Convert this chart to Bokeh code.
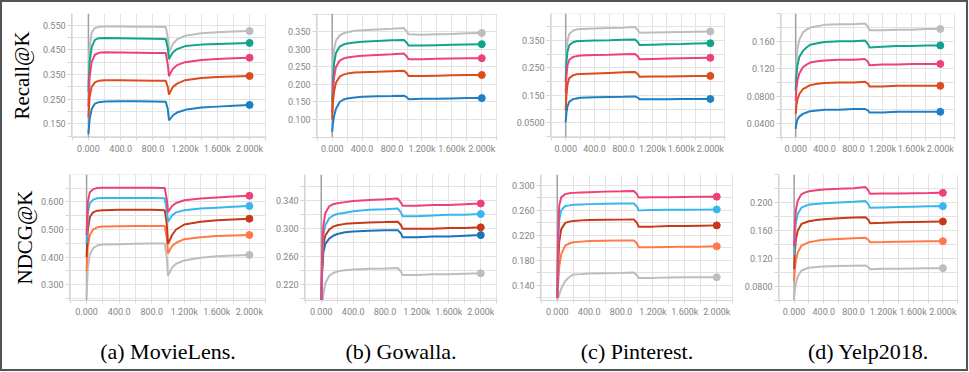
from bokeh.plotting import figure
from bokeh.layouts import row, column
from bokeh.models import Range1d, FixedTicker, Span
from bokeh.embed import file_html
from bokeh.resources import INLINE

# ---------------- data ----------------
x_ticks = [0, 400, 800, 1200, 1600, 2000]
x_tick_labels = ["0.000", "400.0", "800.0", "1.200k", "1.600k", "2.000k"]
x_grid = [-200, 0, 200, 400, 600, 800, 1000, 1200, 1400, 1600, 1800, 2000, 2200]
x_minor = [-200, 200, 600, 1000, 1400, 1800, 2200]

row_labels = ["Recall@K", "NDCG@K"]
captions = ["(a) MovieLens.", "(b) Gowalla.", "(c) Pinterest.", "(d) Yelp2018."]

steps_ml = [0, 15, 40, 80, 130, 200, 400, 600, 800, 960, 985, 1000, 1020, 1050, 1100, 1200, 1400, 1600, 1800, 2000]
steps_std = [0, 10, 25, 50, 100, 150, 200, 300, 400, 600, 800, 960, 1000, 1020, 1200, 1400, 1600, 1800, 2000]

# MovieLens Recall@K
ml_recall_gray = [0.30, 0.46, 0.52, 0.538, 0.543, 0.544, 0.544, 0.543, 0.543, 0.542, 0.50, 0.44, 0.455, 0.475, 0.492, 0.507, 0.517, 0.521, 0.524, 0.526]
ml_recall_teal = [0.28, 0.40, 0.46, 0.49, 0.497, 0.498, 0.497, 0.496, 0.495, 0.494, 0.455, 0.412, 0.425, 0.44, 0.453, 0.465, 0.471, 0.474, 0.476, 0.478]
ml_recall_pink = [0.22, 0.34, 0.40, 0.43, 0.438, 0.44, 0.439, 0.438, 0.437, 0.437, 0.39, 0.343, 0.357, 0.373, 0.388, 0.400, 0.409, 0.413, 0.416, 0.418]
ml_recall_red = [0.177, 0.26, 0.30, 0.318, 0.325, 0.327, 0.327, 0.326, 0.325, 0.325, 0.30, 0.269, 0.283, 0.30, 0.313, 0.327, 0.336, 0.340, 0.342, 0.344]
ml_recall_blue = [0.11, 0.17, 0.21, 0.232, 0.238, 0.241, 0.242, 0.242, 0.241, 0.240, 0.21, 0.164, 0.172, 0.185, 0.196, 0.207, 0.216, 0.220, 0.224, 0.227]

# Gowalla Recall@K
go_recall_gray = [0.20, 0.26, 0.30, 0.325, 0.340, 0.346, 0.349, 0.353, 0.355, 0.357, 0.359, 0.361, 0.350, 0.343, 0.342, 0.343, 0.344, 0.346, 0.347]
go_recall_teal = [0.15, 0.21, 0.26, 0.29, 0.308, 0.314, 0.317, 0.320, 0.322, 0.324, 0.326, 0.327, 0.318, 0.311, 0.311, 0.312, 0.313, 0.314, 0.315]
go_recall_pink = [0.12, 0.18, 0.22, 0.25, 0.268, 0.274, 0.277, 0.280, 0.282, 0.284, 0.286, 0.288, 0.279, 0.272, 0.272, 0.273, 0.274, 0.275, 0.275]
go_recall_red = [0.10, 0.15, 0.18, 0.205, 0.222, 0.228, 0.231, 0.234, 0.235, 0.236, 0.238, 0.239, 0.231, 0.224, 0.224, 0.225, 0.226, 0.227, 0.227]
go_recall_blue = [0.065, 0.09, 0.11, 0.13, 0.150, 0.157, 0.160, 0.163, 0.165, 0.166, 0.167, 0.168, 0.163, 0.158, 0.159, 0.159, 0.160, 0.161, 0.161]

# Pinterest Recall@K
pi_recall_gray = [0.25, 0.31, 0.35, 0.374, 0.386, 0.390, 0.392, 0.393, 0.394, 0.396, 0.397, 0.399, 0.388, 0.378, 0.379, 0.380, 0.381, 0.382, 0.383]
pi_recall_teal = [0.20, 0.27, 0.31, 0.333, 0.344, 0.347, 0.348, 0.349, 0.350, 0.351, 0.353, 0.354, 0.344, 0.334, 0.335, 0.336, 0.337, 0.339, 0.340]
pi_recall_pink = [0.16, 0.22, 0.26, 0.280, 0.290, 0.293, 0.295, 0.296, 0.297, 0.298, 0.300, 0.301, 0.292, 0.282, 0.283, 0.284, 0.285, 0.286, 0.287]
pi_recall_red = [0.095, 0.15, 0.19, 0.213, 0.223, 0.227, 0.228, 0.229, 0.230, 0.232, 0.234, 0.235, 0.227, 0.218, 0.219, 0.219, 0.220, 0.221, 0.221]
pi_recall_blue = [0.052, 0.085, 0.11, 0.127, 0.136, 0.139, 0.141, 0.142, 0.143, 0.144, 0.145, 0.146, 0.141, 0.136, 0.136, 0.136, 0.137, 0.137, 0.137]

# Yelp2018 Recall@K
ye_recall_gray = [0.10, 0.13, 0.15, 0.162, 0.173, 0.177, 0.180, 0.182, 0.184, 0.185, 0.185, 0.186, 0.181, 0.176, 0.176, 0.177, 0.177, 0.178, 0.178]
ye_recall_teal = [0.088, 0.11, 0.125, 0.137, 0.146, 0.151, 0.155, 0.157, 0.159, 0.160, 0.160, 0.161, 0.156, 0.151, 0.152, 0.153, 0.153, 0.154, 0.154]
ye_recall_pink = [0.073, 0.09, 0.103, 0.113, 0.122, 0.126, 0.129, 0.131, 0.132, 0.133, 0.133, 0.134, 0.130, 0.125, 0.126, 0.126, 0.127, 0.127, 0.127]
ye_recall_red = [0.054, 0.066, 0.075, 0.083, 0.090, 0.093, 0.096, 0.098, 0.099, 0.100, 0.100, 0.101, 0.098, 0.094, 0.094, 0.095, 0.095, 0.095, 0.095]
ye_recall_blue = [0.032, 0.040, 0.046, 0.050, 0.054, 0.056, 0.058, 0.059, 0.060, 0.060, 0.061, 0.061, 0.059, 0.056, 0.056, 0.057, 0.057, 0.057, 0.057]

# MovieLens NDCG@K
ml_ndcg_pink = [0.48, 0.60, 0.635, 0.646, 0.650, 0.651, 0.651, 0.651, 0.651, 0.650, 0.61, 0.563, 0.572, 0.585, 0.596, 0.606, 0.612, 0.616, 0.619, 0.622]
ml_ndcg_lblue = [0.45, 0.56, 0.595, 0.608, 0.613, 0.614, 0.614, 0.614, 0.614, 0.613, 0.57, 0.528, 0.537, 0.551, 0.562, 0.570, 0.576, 0.579, 0.582, 0.585]
ml_ndcg_brown = [0.40, 0.50, 0.545, 0.562, 0.568, 0.570, 0.571, 0.571, 0.571, 0.570, 0.52, 0.448, 0.46, 0.48, 0.500, 0.518, 0.528, 0.533, 0.536, 0.539]
ml_ndcg_orange = [0.35, 0.44, 0.48, 0.500, 0.508, 0.511, 0.512, 0.513, 0.513, 0.513, 0.47, 0.413, 0.425, 0.44, 0.452, 0.465, 0.472, 0.476, 0.478, 0.480]
ml_ndcg_gray = [0.26, 0.36, 0.41, 0.432, 0.442, 0.446, 0.447, 0.448, 0.449, 0.449, 0.40, 0.333, 0.345, 0.362, 0.376, 0.388, 0.398, 0.403, 0.406, 0.408]

# Gowalla NDCG@K
go_ndcg_pink = [0.19, 0.26, 0.303, 0.322, 0.332, 0.335, 0.3365, 0.338, 0.3395, 0.341, 0.342, 0.343, 0.337, 0.333, 0.333, 0.334, 0.334, 0.335, 0.336]
go_ndcg_lblue = [0.19, 0.25, 0.29, 0.305, 0.315, 0.319, 0.321, 0.323, 0.325, 0.327, 0.328, 0.329, 0.323, 0.318, 0.318, 0.319, 0.320, 0.320, 0.321]
go_ndcg_red = [0.19, 0.24, 0.275, 0.29, 0.299, 0.303, 0.305, 0.307, 0.308, 0.309, 0.3095, 0.310, 0.305, 0.300, 0.300, 0.300, 0.301, 0.301, 0.302]
go_ndcg_blue = [0.19, 0.235, 0.265, 0.278, 0.286, 0.290, 0.2925, 0.295, 0.296, 0.297, 0.298, 0.298, 0.293, 0.288, 0.288, 0.289, 0.289, 0.290, 0.291]
go_ndcg_gray = [0.15, 0.18, 0.205, 0.222, 0.233, 0.237, 0.239, 0.241, 0.242, 0.243, 0.2435, 0.244, 0.239, 0.234, 0.234, 0.235, 0.235, 0.236, 0.2365]

# Pinterest NDCG@K
pi_ndcg_pink = [0.12, 0.22, 0.268, 0.281, 0.286, 0.2875, 0.288, 0.2885, 0.289, 0.290, 0.2905, 0.291, 0.286, 0.2805, 0.281, 0.281, 0.2815, 0.282, 0.282]
pi_ndcg_lblue = [0.12, 0.20, 0.245, 0.260, 0.267, 0.268, 0.269, 0.2695, 0.270, 0.2705, 0.271, 0.271, 0.266, 0.260, 0.2605, 0.261, 0.261, 0.2612, 0.2615]
pi_ndcg_brown = [0.12, 0.17, 0.21, 0.230, 0.240, 0.242, 0.243, 0.244, 0.2445, 0.245, 0.2452, 0.2455, 0.240, 0.234, 0.234, 0.235, 0.235, 0.2355, 0.236]
pi_ndcg_orange = [0.12, 0.14, 0.17, 0.19, 0.2035, 0.207, 0.209, 0.210, 0.211, 0.2115, 0.212, 0.212, 0.207, 0.201, 0.201, 0.2015, 0.202, 0.202, 0.2025]
pi_ndcg_gray = [0.115, 0.12, 0.125, 0.135, 0.147, 0.153, 0.1575, 0.158, 0.159, 0.1595, 0.160, 0.1605, 0.156, 0.152, 0.152, 0.1525, 0.153, 0.153, 0.153]

# Yelp2018 NDCG@K
ye_ndcg_pink = [0.137, 0.17, 0.19, 0.203, 0.212, 0.2145, 0.216, 0.2175, 0.2186, 0.2195, 0.2205, 0.222, 0.217, 0.2124, 0.2128, 0.213, 0.2133, 0.2135, 0.2138]
ye_ndcg_lblue = [0.125, 0.155, 0.172, 0.184, 0.193, 0.195, 0.197, 0.198, 0.199, 0.200, 0.201, 0.202, 0.197, 0.1924, 0.193, 0.1935, 0.194, 0.1945, 0.1948]
ye_ndcg_brown = [0.105, 0.13, 0.148, 0.16, 0.1695, 0.1715, 0.1733, 0.175, 0.176, 0.1775, 0.1785, 0.179, 0.175, 0.1705, 0.171, 0.1718, 0.1722, 0.1726, 0.1729]
ye_ndcg_orange = [0.088, 0.105, 0.118, 0.129, 0.1386, 0.141, 0.1433, 0.1452, 0.1467, 0.148, 0.149, 0.1495, 0.1465, 0.1433, 0.1436, 0.144, 0.1443, 0.1446, 0.1448]
ye_ndcg_gray = [0.062, 0.075, 0.085, 0.095, 0.1029, 0.105, 0.1067, 0.1078, 0.1086, 0.1093, 0.1097, 0.11, 0.1075, 0.1048, 0.1052, 0.1055, 0.1058, 0.106, 0.1062]

# y tick values / labels / grid per panel
ml_recall_yticks = [0.15, 0.25, 0.35, 0.45, 0.55]
ml_recall_ylabels = ["0.150", "0.250", "0.350", "0.450", "0.550"]
ml_recall_ygrid = [0.1, 0.15, 0.2, 0.25, 0.3, 0.35, 0.4, 0.45, 0.5, 0.55, 0.6]
go_recall_yticks = [0.1, 0.15, 0.2, 0.25, 0.3, 0.35]
go_recall_ylabels = ["0.100", "0.150", "0.200", "0.250", "0.300", "0.350"]
go_recall_ygrid = [0.05, 0.1, 0.15, 0.2, 0.25, 0.3, 0.35, 0.4]
pi_recall_yticks = [0.05, 0.15, 0.25, 0.35]
pi_recall_ylabels = ["0.0500", "0.150", "0.250", "0.350"]
pi_recall_ygrid = [0.0, 0.05, 0.1, 0.15, 0.2, 0.25, 0.3, 0.35, 0.4, 0.45]
ye_recall_yticks = [0.04, 0.08, 0.12, 0.16]
ye_recall_ylabels = ["0.0400", "0.0800", "0.120", "0.160"]
ye_recall_ygrid = [0.02, 0.04, 0.06, 0.08, 0.1, 0.12, 0.14, 0.16, 0.18, 0.2]
ml_ndcg_yticks = [0.3, 0.4, 0.5, 0.6]
ml_ndcg_ylabels = ["0.300", "0.400", "0.500", "0.600"]
ml_ndcg_ygrid = [0.25, 0.3, 0.35, 0.4, 0.45, 0.5, 0.55, 0.6, 0.65, 0.7]
go_ndcg_yticks = [0.22, 0.26, 0.3, 0.34]
go_ndcg_ylabels = ["0.220", "0.260", "0.300", "0.340"]
go_ndcg_ygrid = [0.2, 0.22, 0.24, 0.26, 0.28, 0.3, 0.32, 0.34, 0.36]
pi_ndcg_yticks = [0.14, 0.18, 0.22, 0.26, 0.3]
pi_ndcg_ylabels = ["0.140", "0.180", "0.220", "0.260", "0.300"]
pi_ndcg_ygrid = [0.12, 0.14, 0.16, 0.18, 0.2, 0.22, 0.24, 0.26, 0.28, 0.3]
ye_ndcg_yticks = [0.08, 0.12, 0.16, 0.2]
ye_ndcg_ylabels = ["0.0800", "0.120", "0.160", "0.200"]
ye_ndcg_ygrid = [0.06, 0.08, 0.1, 0.12, 0.14, 0.16, 0.18, 0.2, 0.22, 0.24]

# ---------------- styles ----------------
C_GRAY = "#bdbdbd"
C_TEAL = "#12a38d"
C_PINK = "#ee417c"
C_RED = "#dc4c1c"
C_BLUE = "#1d7fc5"
C_LBLUE = "#38b7ee"
C_BROWN = "#c8391a"
C_ORANGE = "#ff7a48"
C_DBLUE = "#1b74b8"

GRID = "#e3e3e3"
AXIS = "#d6d6d6"
TICKTXT = "#858585"
SERIF = "Liberation Serif"


def panel(steps, series, yr, yticks, ylabels, ygrid, geom, xr=(-210, 2210),
          ylab=None, ylab_standoff=5, xlab=None):
    w, h, l, r, t, b = geom
    p = figure(width=w, height=h, min_border_left=l, min_border_right=r,
               min_border_top=t, min_border_bottom=b,
               x_range=Range1d(*xr), y_range=Range1d(*yr),
               output_backend="svg", toolbar_location=None)
    p.outline_line_color = None
    p.background_fill_color = "white"
    p.border_fill_color = "white"
    p.xgrid.ticker = FixedTicker(ticks=x_grid)
    p.ygrid.ticker = FixedTicker(ticks=ygrid)
    for g in (p.xgrid, p.ygrid):
        g.grid_line_color = GRID
        g.grid_line_width = 1
    xa = p.xaxis[0]
    ya = p.yaxis[0]
    xa.ticker = FixedTicker(ticks=x_ticks, minor_ticks=x_minor)
    xa.major_label_overrides = dict(zip(x_ticks, x_tick_labels))
    ya.ticker = FixedTicker(ticks=yticks, minor_ticks=ygrid)
    ya.major_label_overrides = dict(zip(yticks, ylabels))
    for ax in (xa, ya):
        ax.axis_line_color = AXIS
        ax.major_tick_line_color = AXIS
        ax.minor_tick_line_color = AXIS
        ax.major_tick_in = 0
        ax.minor_tick_in = 0
        ax.major_tick_out = 4
        ax.minor_tick_out = 4
        ax.major_label_text_font = "Roboto"
        ax.major_label_text_font_size = "9px"
        ax.major_label_text_color = TICKTXT
        ax.major_label_standoff = 2
    xa.major_tick_out = 3
    xa.minor_tick_out = 3
    xa.major_label_standoff = 3
    if ylab:
        ya.axis_label = ylab
        ya.axis_label_text_font = SERIF
        ya.axis_label_text_font_size = "21px"
        ya.axis_label_text_font_style = "normal"
        ya.axis_label_text_color = "black"
        ya.axis_label_standoff = ylab_standoff
    if xlab:
        xa.axis_label = xlab
        xa.axis_label_text_font = SERIF
        xa.axis_label_text_font_size = "22px"
        xa.axis_label_text_font_style = "normal"
        xa.axis_label_text_color = "black"
        xa.axis_label_standoff = 19
    zero = Span(location=0, dimension="height", line_color="#a0a0a0", line_width=1.5)
    zero.level = "underlay"
    p.add_layout(zero)
    for vals, col in series:
        p.line(steps, vals, line_color=col, line_width=2)
        p.scatter([steps[-1]], [vals[-1]], size=7, fill_color=col, line_color=col)
    return p


p1 = panel(steps_ml, [(ml_recall_gray, C_GRAY), (ml_recall_teal, C_TEAL), (ml_recall_pink, C_PINK),
                      (ml_recall_red, C_RED), (ml_recall_blue, C_BLUE)],
           (0.095, 0.597), ml_recall_yticks, ml_recall_ylabels, ml_recall_ygrid,
           (276, 163, 69, 12, 11, 23), ylab=row_labels[0], ylab_standoff=6)
p2 = panel(steps_std, [(go_recall_gray, C_GRAY), (go_recall_teal, C_TEAL), (go_recall_pink, C_PINK),
                       (go_recall_red, C_RED), (go_recall_blue, C_BLUE)],
           (0.0486, 0.4025), go_recall_yticks, go_recall_ylabels, go_recall_ygrid,
           (235, 163, 38, 16, 11, 26))
p3 = panel(steps_std, [(pi_recall_gray, C_GRAY), (pi_recall_teal, C_TEAL), (pi_recall_pink, C_PINK),
                       (pi_recall_red, C_RED), (pi_recall_blue, C_BLUE)],
           (-0.0036, 0.4485), pi_recall_yticks, pi_recall_ylabels, pi_recall_ygrid,
           (230, 163, 35, 18, 11, 28))
p4 = panel(steps_std, [(ye_recall_gray, C_GRAY), (ye_recall_teal, C_TEAL), (ye_recall_pink, C_PINK),
                       (ye_recall_red, C_RED), (ye_recall_blue, C_BLUE)],
           (0.0195, 0.2006), ye_recall_yticks, ye_recall_ylabels, ye_recall_ygrid,
           (223, 163, 34, 11, 11, 28))

p5 = panel(steps_ml, [(ml_ndcg_gray, C_GRAY), (ml_ndcg_orange, C_ORANGE), (ml_ndcg_brown, C_BROWN),
                      (ml_ndcg_lblue, C_LBLUE), (ml_ndcg_pink, C_PINK)],
           (0.243, 0.699), ml_ndcg_yticks, ml_ndcg_ylabels, ml_ndcg_ygrid,
           (270, 204, 67, 6, 8, 65), ylab=row_labels[1], ylab_standoff=1, xlab=captions[0])
p6 = panel(steps_std, [(go_ndcg_gray, C_GRAY), (go_ndcg_blue, C_DBLUE), (go_ndcg_red, C_BROWN),
                       (go_ndcg_lblue, C_LBLUE), (go_ndcg_pink, C_PINK)],
           (0.1977, 0.3774), go_ndcg_yticks, go_ndcg_ylabels, go_ndcg_ygrid,
           (236, 204, 29, 11, 8, 65), xlab=captions[1])
p7 = panel(steps_std, [(pi_ndcg_gray, C_GRAY), (pi_ndcg_orange, C_ORANGE), (pi_ndcg_brown, C_BROWN),
                       (pi_ndcg_lblue, C_LBLUE), (pi_ndcg_pink, C_PINK)],
           (0.1158, 0.3174), pi_ndcg_yticks, pi_ndcg_ylabels, pi_ndcg_ygrid,
           (233, 204, 30, 8, 8, 65), xlab=captions[2])
p8 = panel(steps_std, [(ye_ndcg_gray, C_GRAY), (ye_ndcg_orange, C_ORANGE), (ye_ndcg_brown, C_BROWN),
                       (ye_ndcg_lblue, C_LBLUE), (ye_ndcg_pink, C_PINK)],
           (0.06, 0.24), ye_ndcg_yticks, ye_ndcg_ylabels, ye_ndcg_ygrid,
           (225, 204, 34, 8, 9, 69), xlab=captions[3])

layout = column(row(p1, p2, p3, p4), row(p5, p6, p7, p8),
                styles={"border": "2px solid #555555"})

open("out.html", "w").write(file_html(layout, INLINE))
